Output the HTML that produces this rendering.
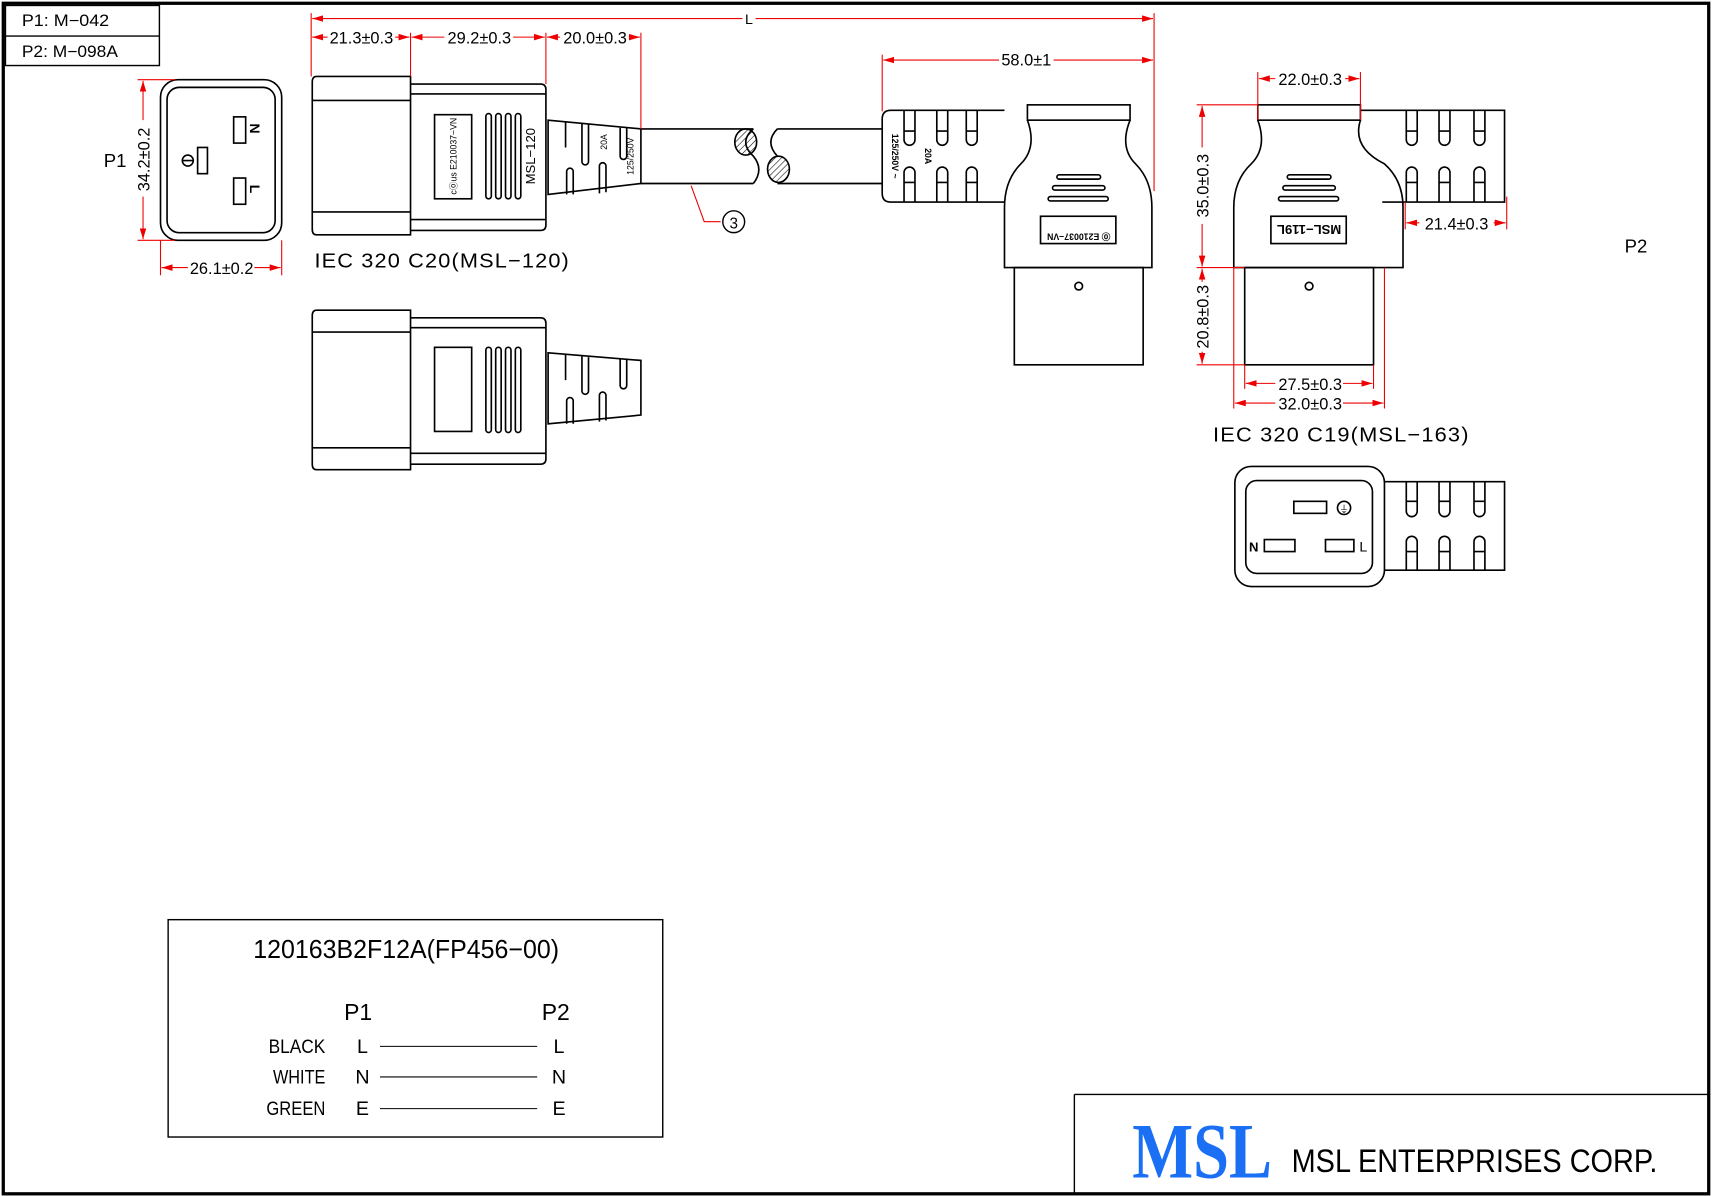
<!DOCTYPE html>
<html><head><meta charset="utf-8"><style>html,body{margin:0;padding:0;background:#fff}svg{display:block}</style></head>
<body>
<svg width="1712" height="1196" viewBox="0 0 1568 1095" preserveAspectRatio="none" xmlns="http://www.w3.org/2000/svg" font-family="Liberation Sans, sans-serif">
<defs>
<marker id="a" viewBox="0 0 10 6" refX="10" refY="3" markerWidth="10" markerHeight="6" orient="auto-start-reverse" markerUnits="userSpaceOnUse"><path d="M0,0L10,3L0,6z" fill="#e00"/></marker>
<pattern id="h" width="4" height="4" patternUnits="userSpaceOnUse" patternTransform="rotate(45)"><line x1="0" y1="0" x2="0" y2="4" stroke="#000" stroke-width="1"/></pattern>
</defs>
<rect width="1568" height="1095" fill="#fff"/>
<rect x="3" y="3" width="1562" height="1090" fill="none" stroke="#000" stroke-width="3"/>
<g fill="none" stroke="#000" stroke-width="1.3">
<rect x="5" y="5" width="141" height="55"/><line x1="5" y1="33" x2="146" y2="33"/>
</g>
<g font-size="15"><text x="20" y="24" textLength="80" lengthAdjust="spacingAndGlyphs">P1: M−042</text><text x="20" y="52" textLength="88" lengthAdjust="spacingAndGlyphs">P2: M−098A</text></g>

<!-- P1 face -->
<g fill="none" stroke="#000" stroke-width="1.5">
<rect x="147" y="73" width="111" height="147" rx="16"/>
<rect x="153" y="80" width="99" height="133" rx="11"/>
<rect x="214" y="107" width="11" height="24"/>
<rect x="214" y="163" width="11" height="24"/>
<rect x="181" y="135" width="9" height="24"/>
<circle cx="172" cy="147" r="5"/><line x1="167" y1="147" x2="177" y2="147"/>
</g>
<g font-size="13" font-weight="bold"><text transform="translate(229,113) rotate(90)">N</text><text transform="translate(229,169) rotate(90)">L</text></g>
<text x="95" y="153" font-size="17">P1</text>
<g stroke="#e00" stroke-width="1" fill="none">
<line x1="126" y1="73" x2="160" y2="73"/><line x1="126" y1="220" x2="160" y2="220"/>
<line x1="131" y1="74" x2="131" y2="110" marker-start="url(#a)"/><line x1="131" y1="180" x2="131" y2="219" marker-end="url(#a)"/>
<line x1="147" y1="220" x2="147" y2="252"/><line x1="258" y1="220" x2="258" y2="252"/>
<line x1="148" y1="245" x2="172" y2="245" marker-start="url(#a)"/><line x1="233" y1="245" x2="257" y2="245" marker-end="url(#a)"/>
</g>
<text transform="translate(137,146) rotate(-90)" font-size="15" text-anchor="middle">34.2±0.2</text>
<text x="203" y="251" font-size="15" text-anchor="middle">26.1±0.2</text>

<!-- C20 side top -->
<g fill="none" stroke="#000" stroke-width="1.5">
<path d="M290,70H376V215H290Q286,215 286,210V75Q286,70 290,70Z"/>
<line x1="286" y1="92" x2="376" y2="92"/><line x1="286" y1="194" x2="376" y2="194"/>
<path d="M376,77H495Q500,77 500,82V206Q500,211 495,211H376"/>
<line x1="376" y1="86" x2="500" y2="86"/><line x1="376" y1="201" x2="500" y2="201"/>
<rect x="398" y="105" width="34" height="77"/>
<rect x="445" y="104" width="5" height="78" rx="2.5"/><rect x="454" y="104" width="5" height="78" rx="2.5"/><rect x="463" y="104" width="5" height="78" rx="2.5"/><rect x="472" y="104" width="5" height="78" rx="2.5"/>
<path d="M502,110L587,118V168L502,178Z"/>
<path d="M519,178V157A3,3 0 0 1 525,157V178M549,177V152A3,3 0 0 1 555,152V176M518,112V135M533,113V148A3,3 0 0 0 539,148V114M568,117V143A3,3 0 0 0 574,143V117"/>
<line x1="587" y1="118" x2="690" y2="118"/><line x1="587" y1="168" x2="690" y2="168"/>
<path d="M690,118Q676,130 690,143Q700,155 690,168" />
<ellipse cx="683" cy="130" rx="10" ry="12" fill="url(#h)"/>
<line x1="712" y1="118" x2="808" y2="118"/><line x1="712" y1="168" x2="808" y2="168"/>
<path d="M712,118Q700,130 712,143"/>
<ellipse cx="713" cy="155" rx="10" ry="12" fill="url(#h)"/>
</g>
<text transform="translate(418,143) rotate(-90)" font-size="8" text-anchor="middle">c⓪us E210037−VN</text>
<text transform="translate(490,143) rotate(-90)" font-size="12" text-anchor="middle">MSL−120</text>
<text transform="translate(556,130) rotate(-90)" font-size="8" text-anchor="middle">20A</text>
<text transform="translate(580,143) rotate(-90)" font-size="8" text-anchor="middle">125/250V</text>
<g stroke="#e00" stroke-width="1" fill="none"><polyline points="633,170 645,203 660,203"/></g>
<circle cx="672" cy="203" r="10" fill="none" stroke="#000" stroke-width="1.3"/><text x="672" y="209" font-size="14" text-anchor="middle">3</text>

<!-- top dims -->
<g stroke="#e00" stroke-width="1" fill="none">
<line x1="285" y1="12" x2="285" y2="70"/><line x1="1057" y1="12" x2="1057" y2="175"/>
<line x1="286" y1="17" x2="680" y2="17" marker-start="url(#a)"/><line x1="692" y1="17" x2="1056" y2="17" marker-end="url(#a)"/>
<line x1="376" y1="30" x2="376" y2="70"/><line x1="500" y1="30" x2="500" y2="77"/><line x1="587" y1="30" x2="587" y2="118"/>
<line x1="286" y1="34" x2="300" y2="34" marker-start="url(#a)"/><line x1="362" y1="34" x2="375" y2="34" marker-end="url(#a)"/>
<line x1="377" y1="34" x2="407" y2="34" marker-start="url(#a)"/><line x1="470" y1="34" x2="499" y2="34" marker-end="url(#a)"/>
<line x1="501" y1="34" x2="513" y2="34" marker-start="url(#a)"/><line x1="576" y1="34" x2="586" y2="34" marker-end="url(#a)"/>
<line x1="808" y1="50" x2="808" y2="102"/>
<line x1="809" y1="55" x2="915" y2="55" marker-start="url(#a)"/><line x1="965" y1="55" x2="1056" y2="55" marker-end="url(#a)"/>
</g>
<g font-size="15" text-anchor="middle"><text x="686" y="22" font-size="13">L</text><text x="331" y="40">21.3±0.3</text><text x="439" y="40">29.2±0.3</text><text x="545" y="40">20.0±0.3</text><text x="940" y="60">58.0±1</text></g>
<text x="288" y="245" font-size="19" letter-spacing="1" textLength="234" lengthAdjust="spacingAndGlyphs">IEC  320  C20(MSL−120)</text>

<!-- C20 second -->
<g fill="none" stroke="#000" stroke-width="1.5">
<path d="M290,284H376V430H290Q286,430 286,425V289Q286,284 290,284Z"/>
<line x1="286" y1="304" x2="376" y2="304"/><line x1="286" y1="410" x2="376" y2="410"/>
<path d="M376,291H495Q500,291 500,296V420Q500,425 495,425H376"/>
<line x1="376" y1="300" x2="500" y2="300"/><line x1="376" y1="415" x2="500" y2="415"/>
<rect x="398" y="318" width="34" height="77"/>
<rect x="445" y="318" width="5" height="78" rx="2.5"/><rect x="454" y="318" width="5" height="78" rx="2.5"/><rect x="463" y="318" width="5" height="78" rx="2.5"/><rect x="472" y="318" width="5" height="78" rx="2.5"/>
<path d="M502,323L587,330V380L502,388Z"/>
<path d="M519,388V367A3,3 0 0 1 525,367V388M549,386V362A3,3 0 0 1 555,362V385M518,325V348M533,326V358A3,3 0 0 0 539,358V327M568,329V353A3,3 0 0 0 574,353V329"/>
</g>

<!-- P2 right angle view 1 -->
<g fill="none" stroke="#000" stroke-width="1.5">
<path d="M920,101H816Q808,101 808,109V177Q808,185 816,185H920"/>
<path d="M828,101V128A5,5 0 0 0 838,128V101M858,101V128A5,5 0 0 0 868,128V101M885,101V128A5,5 0 0 0 895,128V101"/>
<path d="M828,185V158A5,5 0 0 1 838,158V185M858,185V158A5,5 0 0 1 868,158V185M885,185V158A5,5 0 0 1 895,158V185"/>
<path d="M828,120H838M858,120H868M885,120H895M828,167H838M858,167H868M885,167H895"/>
<rect x="941" y="96" width="94" height="14"/>
<path d="M941,110Q950,135 935,150Q920,165 920,190V245H1055V190Q1055,165 1040,150Q1025,135 1035,110"/>
<rect x="929" y="245" width="118" height="89"/>
<circle cx="988" cy="262" r="3.5"/>
<rect x="968" y="160" width="40" height="4" rx="2"/><rect x="964" y="170" width="48" height="4" rx="2"/><rect x="960" y="180" width="55" height="4" rx="2"/>
<rect x="953" y="198" width="69" height="25"/>
</g>
<text transform="translate(988,214) rotate(180)" font-size="8" text-anchor="middle" font-weight="bold">⓪ E210037−VN</text>
<text transform="translate(817,143) rotate(90)" font-size="8" text-anchor="middle" font-weight="bold">125/250V ~</text>
<text transform="translate(847,143) rotate(90)" font-size="8" text-anchor="middle" font-weight="bold">20A</text>

<!-- P2 view 2 -->
<g fill="none" stroke="#000" stroke-width="1.5">
<path d="M1246,101H1378V185H1266"/>
<path d="M1288,101V128A5,5 0 0 0 1298,128V101M1318,101V128A5,5 0 0 0 1328,128V101M1350,101V128A5,5 0 0 0 1360,128V101"/>
<path d="M1288,185V158A5,5 0 0 1 1298,158V185M1318,185V158A5,5 0 0 1 1328,158V185M1350,185V158A5,5 0 0 1 1360,158V185"/>
<path d="M1288,120H1298M1318,120H1328M1350,120H1360M1288,167H1298M1318,167H1328M1350,167H1360"/>
<rect x="1152" y="96" width="94" height="14"/>
<path d="M1152,110Q1161,135 1146,150Q1130,165 1130,190V245H1285V190Q1285,165 1268,150Q1238,135 1246,110"/>
<rect x="1140" y="245" width="118" height="89"/>
<circle cx="1199" cy="262" r="3.5"/>
<rect x="1179" y="160" width="40" height="4" rx="2"/><rect x="1175" y="170" width="48" height="4" rx="2"/><rect x="1171" y="180" width="55" height="4" rx="2"/>
<rect x="1164" y="198" width="69" height="25"/>
</g>
<text transform="translate(1199,206) rotate(180)" font-size="12" text-anchor="middle" font-weight="bold">MSL−119L</text>
<g stroke="#e00" stroke-width="1" fill="none">
<line x1="1152" y1="66" x2="1152" y2="110"/><line x1="1246" y1="66" x2="1246" y2="110"/>
<line x1="1153" y1="72" x2="1168" y2="72" marker-start="url(#a)"/><line x1="1232" y1="72" x2="1245" y2="72" marker-end="url(#a)"/>
<line x1="1096" y1="96" x2="1152" y2="96"/><line x1="1096" y1="245" x2="1140" y2="245"/><line x1="1096" y1="334" x2="1140" y2="334"/>
<line x1="1101" y1="97" x2="1101" y2="135" marker-start="url(#a)"/><line x1="1101" y1="205" x2="1101" y2="244" marker-end="url(#a)"/>
<line x1="1101" y1="246" x2="1101" y2="258" marker-start="url(#a)"/><line x1="1101" y1="322" x2="1101" y2="333" marker-end="url(#a)"/>
<line x1="1287" y1="185" x2="1287" y2="210"/><line x1="1380" y1="180" x2="1380" y2="210"/>
<line x1="1288" y1="204" x2="1300" y2="204" marker-start="url(#a)"/><line x1="1368" y1="204" x2="1379" y2="204" marker-end="url(#a)"/>
<line x1="1130" y1="245" x2="1130" y2="374"/><line x1="1140" y1="334" x2="1140" y2="356"/><line x1="1258" y1="334" x2="1258" y2="356"/><line x1="1268" y1="245" x2="1268" y2="374"/>
<line x1="1141" y1="351" x2="1168" y2="351" marker-start="url(#a)"/><line x1="1230" y1="351" x2="1257" y2="351" marker-end="url(#a)"/>
<line x1="1131" y1="369" x2="1168" y2="369" marker-start="url(#a)"/><line x1="1230" y1="369" x2="1267" y2="369" marker-end="url(#a)"/>
</g>
<g font-size="15" text-anchor="middle"><text x="1200" y="78">22.0±0.3</text><text x="1334" y="210">21.4±0.3</text><text x="1200" y="357">27.5±0.3</text><text x="1200" y="375">32.0±0.3</text>
<text transform="translate(1107,170) rotate(-90)">35.0±0.3</text><text transform="translate(1107,290) rotate(-90)">20.8±0.3</text></g>
<text x="1111" y="404" font-size="19" letter-spacing="1" textLength="235" lengthAdjust="spacingAndGlyphs">IEC  320  C19(MSL−163)</text>
<text x="1488" y="231" font-size="17">P2</text>

<!-- C19 face -->
<g fill="none" stroke="#000" stroke-width="1.5">
<rect x="1131" y="427" width="137" height="110" rx="15"/>
<rect x="1141" y="440" width="116" height="85" rx="10"/>
<path d="M1268,441H1378V522H1268"/>
<path d="M1288,441V468A5,5 0 0 0 1298,468V441M1318,441V468A5,5 0 0 0 1328,468V441M1350,441V468A5,5 0 0 0 1360,468V441"/>
<path d="M1288,522V496A5,5 0 0 1 1298,496V522M1318,522V496A5,5 0 0 1 1328,496V522M1350,522V496A5,5 0 0 1 1360,496V522"/>
<path d="M1288,459H1298M1318,459H1328M1350,459H1360M1288,505H1298M1318,505H1328M1350,505H1360"/>
<rect x="1185" y="459" width="30" height="11"/>
<rect x="1158" y="494" width="28" height="11"/>
<rect x="1214" y="494" width="26" height="11"/>
<circle cx="1231" cy="465" r="6"/>
</g>
<text x="1231" y="469" font-size="9" text-anchor="middle">⏚</text>
<text x="1144" y="505" font-size="12" font-weight="bold">N</text><text x="1245" y="505" font-size="13">L</text>

<!-- bottom table -->
<rect x="154" y="842" width="453" height="199" fill="none" stroke="#000" stroke-width="1.3"/>
<text x="372" y="877" font-size="24" text-anchor="middle" textLength="280" lengthAdjust="spacingAndGlyphs">120163B2F12A(FP456−00)</text>
<g font-size="21"><text x="328" y="934" text-anchor="middle">P1</text><text x="509" y="934" text-anchor="middle">P2</text></g>
<g font-size="18">
<text x="298" y="964" text-anchor="end" textLength="52" lengthAdjust="spacingAndGlyphs">BLACK</text><text x="298" y="992" text-anchor="end" textLength="48" lengthAdjust="spacingAndGlyphs">WHITE</text><text x="298" y="1021" text-anchor="end" textLength="54" lengthAdjust="spacingAndGlyphs">GREEN</text>
<text x="332" y="964" text-anchor="middle">L</text><text x="332" y="992" text-anchor="middle">N</text><text x="332" y="1021" text-anchor="middle">E</text>
<text x="512" y="964" text-anchor="middle">L</text><text x="512" y="992" text-anchor="middle">N</text><text x="512" y="1021" text-anchor="middle">E</text>
</g>
<g stroke="#000" stroke-width="1"><line x1="348" y1="958" x2="492" y2="958"/><line x1="348" y1="986" x2="492" y2="986"/><line x1="348" y1="1015" x2="492" y2="1015"/></g>

<!-- logo -->
<g stroke="#000" stroke-width="1.3"><line x1="984" y1="1002" x2="1565" y2="1002"/><line x1="984" y1="1002" x2="984" y2="1093"/></g>
<text x="1037" y="1078" font-size="72" font-family="Liberation Serif, serif" font-weight="bold" fill="#1a6ff5" textLength="128" lengthAdjust="spacingAndGlyphs">MSL</text>
<text x="1183" y="1073" font-size="30" textLength="335" lengthAdjust="spacingAndGlyphs">MSL  ENTERPRISES  CORP.</text>
</svg>
</body></html>
